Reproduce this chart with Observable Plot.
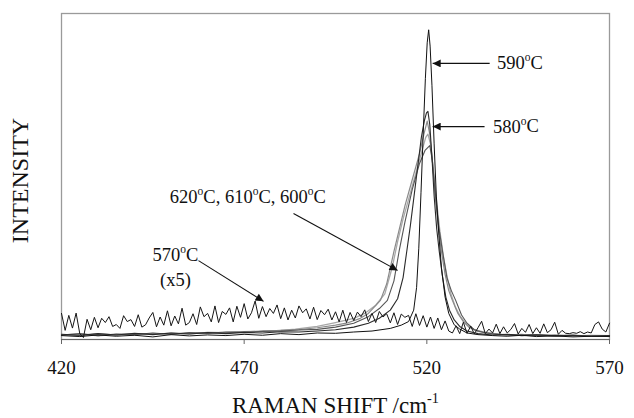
<!DOCTYPE html>
<html>
<head>
<meta charset="utf-8">
<script src="https://cdn.jsdelivr.net/npm/d3@7"></script>
<script src="https://cdn.jsdelivr.net/npm/@observablehq/plot@0.6"></script>
<style>
  html, body { margin: 0; padding: 0; background: #fff; }
  #chart svg { display: block; }
  #chart svg, #chart svg text { font-family: "Liberation Serif", "Times New Roman", Times, serif !important; }
</style>
</head>
<body>
<div id="chart"></div>
<script>
// ---- data (Raman shift in cm-1, relative intensity 0-100) ----
const xTicks = [420, 470, 520, 570];

const x590 = [420,425,430,435,440,445,450,455,460,465,470,475,480,485,490,495,500,505,510,513,515,516.4,517.2,517.8,518.4,519,519.6,520.1,520.5,520.9,521.4,522,522.6,523.3,524,525,526,527.5,529,531,534,538,542,546,550,555,560,565,570];
const y590 = [1.2,0.9,1.4,1.0,1.3,0.8,1.5,1.1,1.4,1.2,1.6,1.3,1.8,1.5,2.0,1.9,2.3,2.6,3.4,4.4,5.5,9,16,28,45,63,80,91,95,90,78,60,44,32,22,13,8,4.5,3.2,2.0,1.5,1.2,1.0,1.3,0.9,1.1,0.8,1.0,0.9];

const x580 = [420,425,430,435,440,445,450,455,460,465,470,475,480,485,490,495,500,504,507,510,512,513.5,514.5,515.5,516.5,517.5,518.5,519.3,519.9,520.3,520.8,521.4,522,522.7,523.4,524.2,525.2,526.2,527.5,529,531,534,538,542,546,550,555,560,565,570];
const y580 = [1.6,1.3,1.8,1.4,1.9,1.5,2.0,1.7,2.1,1.8,2.2,2.0,2.4,2.3,2.6,3.0,3.8,5.0,6.5,9,12.5,19,27,35,44,53,62,67,69.5,70,66,56,44,34,27,20,13,9,6,4,2.6,1.8,1.4,1.6,1.2,1.4,1.1,1.3,1.0,1.2];

const x600 = [420,425,430,435,440,445,450,455,460,465,470,475,480,485,490,495,500,504,507,509.2,511,512.4,514,516,518,519.5,520.8,521.5,522.3,523.2,524.3,525.5,526.7,527.9,529.5,531,533,536,540,545,550,555,560,565,570];
const y600 = [1.4,1.8,1.2,1.7,1.5,2.0,1.6,2.1,1.9,2.3,2.2,2.5,2.6,2.9,3.1,3.8,5.0,7.0,9.5,12,18,27,36,46,54,58,59.5,55,45,35,27,19,15,12,7.5,5,3,2,1.5,1.3,1.5,1.1,1.3,1.0,1.2];

const x610 = [420,425,430,435,440,445,450,455,460,465,470,475,480,485,490,495,498,501.8,504,507.3,509,511,512.5,514,516,518,519.2,520.1,520.8,521.5,522.3,523.2,524,525,526,527,528.5,530,531.5,534,538,542,546,550,555,560,565,570];
const y610 = [1.5,1.2,1.7,1.4,1.8,1.6,2.0,1.7,2.2,2.1,2.4,2.5,2.8,3.0,3.6,4.4,5.0,6.5,8,12,17,27,34,41,49,57,63,67,63,55,44,34,27,20,15,12,8,5.5,3.8,2.5,1.8,1.4,1.6,1.2,1.4,1.1,1.3,1.2];

const x620 = [420,425,430,435,440,445,450,455,460,465,470,475,480,484,490,495,500,503,506,508.5,510.5,512,513.5,515,517,518.7,519.7,520.3,521,521.8,522.7,523.6,524.6,525.6,526.6,527.8,529.2,531,533,536,540,545,550,555,560,565,570];
const y620 = [1.3,1.7,1.1,1.6,1.4,1.9,1.5,2.0,1.8,2.2,2.3,2.6,2.8,3.2,4.0,5.2,6.5,8,10.5,14,22,30,37,43,51,58,62,63,60,52,42,33,25,19,14,10,7,4.5,3,2.2,1.6,1.3,1.5,1.1,1.3,1.0,1.2];

// 570 oC spectrum (x5), sampled every 1 cm-1 from 420 to 570
const x570 = d3.range(420, 571, 1);
const y570 = [
  8.0,2.8,7.4,3.5,8.1,1.8,0.6,6.2,3.0,6.8,
  3.6,6.5,5.2,7.0,4.0,4.6,3.4,7.3,5.5,6.1,
  4.0,7.6,3.8,4.5,6.6,8.3,3.9,6.9,4.4,8.8,
  4.2,7.2,4.8,9.6,4.4,5.2,7.9,4.6,10.0,7.0,
  8.0,5.4,10.3,5.2,8.6,7.7,9.7,5.4,10.2,6.8,
  11.0,6.3,8.2,11.8,6.5,10.1,7.0,9.5,8.0,10.6,
  6.4,9.7,6.0,9.0,6.6,10.3,8.2,9.4,6.3,9.9,
  6.1,8.9,7.6,9.3,6.0,8.5,5.4,9.0,5.2,8.3,
  5.8,8.4,7.0,9.1,5.5,8.0,5.2,8.6,6.9,7.9,
  5.1,8.2,4.6,7.8,6.8,7.4,4.0,7.9,4.3,7.3,
  3.8,6.9,3.4,6.6,3.0,5.7,2.6,2.0,4.2,1.8,
  5.3,1.9,4.1,1.7,3.6,5.6,1.8,3.2,2.0,4.7,
  1.8,3.9,2.0,3.1,4.9,1.7,3.4,2.2,4.6,1.8,
  3.6,1.9,4.8,2.1,3.0,5.3,1.6,2.8,1.9,1.8,
  2.1,1.9,2.4,1.8,2.3,2.0,4.6,5.4,3.2,2.3,
  5.0
];

// annotations (data coordinates); {..} marks superscript
const annLabels = ["590{o}C", "580{o}C", "620{o}C, 610{o}C, 600{o}C", "570{o}C", "(x5)"];
const annX = [545.5, 544.4, 471.0, 451.2, 451.2];
const annY = [84.7, 65.3, 43.6, 25.8, 18.1];
const arrX1 = [537.2, 535.8, 483.5, 457.5];
const arrY1 = [84.7, 65.3, 38.65, 24.2];
const arrX2 = [521.6, 521.6, 512.0, 475.3];
const arrY2 = [84.7, 65.3, 21.2, 11.7];

// ---- build tables ----
const seriesDefs = [
  {name: "620", xs: x620, ys: y620, color: "#a8a8a8", w: 1.3},
  {name: "610", xs: x610, ys: y610, color: "#8a8a8a", w: 1.2},
  {name: "600", xs: x600, ys: y600, color: "#555555", w: 1.1},
  {name: "570", xs: x570, ys: y570, color: "#151515", w: 1.0},
  {name: "580", xs: x580, ys: y580, color: "#2a2a2a", w: 1.1},
  {name: "590", xs: x590, ys: y590, color: "#111111", w: 1.0}
];
const ann = annLabels.map((t, i) => ({t, x: annX[i], y: annY[i]}));
const arrows = arrX1.map((v, i) => ({x1: v, y1: arrY1[i], x2: arrX2[i], y2: arrY2[i]}));

const serif = "Liberation Serif";

const marks = [
  Plot.frame({stroke: "#9a9a9a", strokeWidth: 1.3})
];
for (const s of seriesDefs) {
  const rows = s.xs.map((x, i) => ({x, y: s.ys[i]}));
  marks.push(Plot.line(rows, {x: "x", y: "y", stroke: s.color, strokeWidth: s.w}));
}
marks.push(
  Plot.ruleY([0], {stroke: "#666", strokeWidth: 1.2}),
  Plot.axisX({ticks: xTicks, tickSize: 5, tickPadding: 16, fontSize: 19, fontFamily: serif, label: null, stroke: "#666", fill: "#111"}),
  Plot.link(arrows, {x1: "x1", y1: "y1", x2: "x2", y2: "y2", stroke: "#111", strokeWidth: 1.1}),
  Plot.text(ann, {x: "x", y: "y", text: "t", fontSize: 18.5, fontFamily: serif, fill: "#111", textAnchor: "middle"}),
  Plot.text(["RAMAN SHIFT /cm{-1}"], {frameAnchor: "bottom", dy: 66, lineAnchor: "middle", textAnchor: "middle", fontSize: 23, fontFamily: serif, fill: "#111"}),
  Plot.text(["INTENSITY"], {frameAnchor: "left", dx: -41, dy: 4, rotate: -90, textAnchor: "middle", lineAnchor: "middle", fontSize: 24, fontFamily: serif, fill: "#111"})
);

const chart = Plot.plot({
  width: 634,
  height: 418,
  marginLeft: 61,
  marginRight: 25,
  marginTop: 13,
  marginBottom: 79,
  style: {fontFamily: serif, background: "#fff", color: "#111"},
  x: {domain: [420, 570], axis: null},
  y: {domain: [0, 100], axis: null},
  marks
});

// superscripts
d3.select(chart).selectAll("text").each(function () {
  const str = this.textContent;
  if (!str.includes("{")) return;
  const parts = str.split(/\{([^}]*)\}/);
  const el = d3.select(this);
  el.text(null);
  let raised = false;
  parts.forEach((p, i) => {
    if (p === "") { return; }
    const sup = i % 2 === 1;
    const ts = el.append("tspan").text(p);
    if (sup) {
      ts.attr("font-size", "0.62em").attr("dy", raised ? null : "-0.7em");
      raised = true;
    } else if (raised) {
      ts.attr("dy", "0.43em");
      raised = false;
    }
  });
});

// filled arrowheads
const svg = d3.select(chart);
svg.append("defs").append("marker")
  .attr("id", "ahead").attr("viewBox", "0 0 10 10").attr("refX", 10).attr("refY", 5)
  .attr("markerWidth", 10).attr("markerHeight", 8).attr("markerUnits", "userSpaceOnUse")
  .attr("orient", "auto")
  .append("path").attr("d", "M0,0L10,5L0,10z").attr("fill", "#111");
svg.selectAll("g[aria-label='link'] path").attr("marker-end", "url(#ahead)");

document.getElementById("chart").append(chart);
</script>
</body>
</html>
